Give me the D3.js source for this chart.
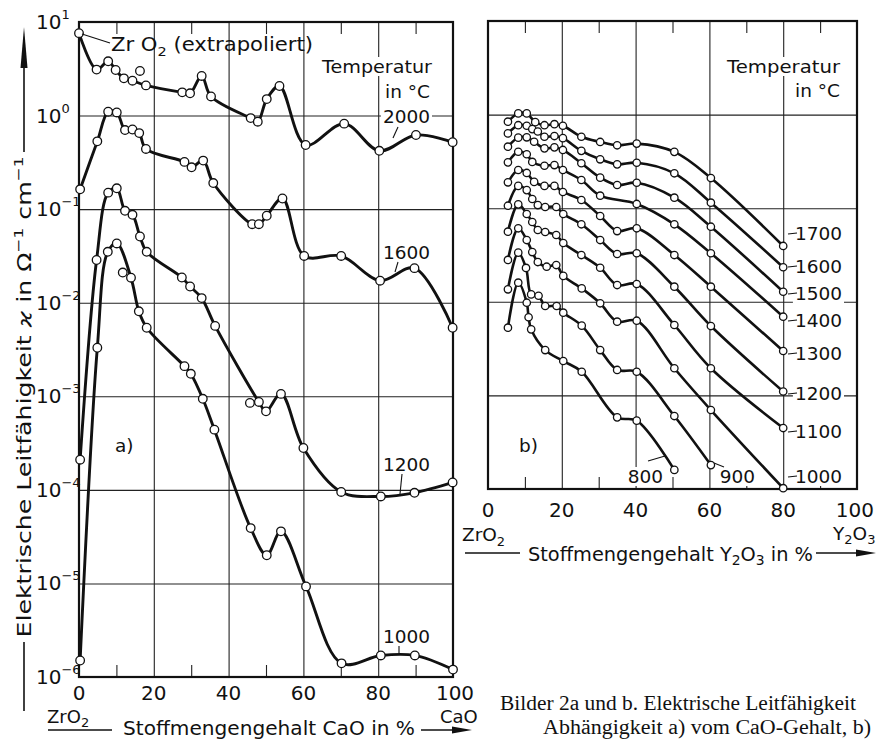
<!DOCTYPE html>
<html>
<head>
<meta charset="utf-8">
<script src="https://cdn.jsdelivr.net/npm/d3@7"></script>
<style>
  body { margin: 0; background: #fff; }
  svg text { font-family: "DejaVu Sans", sans-serif; fill: #111; }
  .cap { font-family: "Liberation Serif", serif; }
</style>
</head>
<body>
<div id="graph"></div>
<script>
/*******************************************************************************
* Data  (x = mol-% additive, value = conductivity in 1/(Ohm cm))
*******************************************************************************/
var xTickLabels = [0, 20, 40, 60, 80, 100];
var decadesA = [1, 0, -1, -2, -3, -4, -5, -6];

// a) ZrO2-CaO
var caO2000 = [[0,7.6],[4.7,3.1],[7.8,3.8],[9.8,3.07],[12,2.5],[14.3,2.36],[17.9,2.1],[27.6,1.77],[29.7,1.73],[32.8,2.65],[35.3,1.6],[45.9,0.94],[47.8,0.86],[50.2,1.5],[53.6,2.07],[60.6,0.485],[70.9,0.82],[80.3,0.42],[90.1,0.62],[99.9,0.52]];
var caO1600 = [[0.3,0.163],[4.9,0.53],[7.8,1.1],[10.1,1.08],[12.3,0.70],[14.3,0.71],[16.1,0.65],[17.9,0.44],[28.2,0.32],[30.1,0.28],[33.2,0.33],[35.9,0.19],[46.3,0.069],[48.1,0.069],[50.2,0.085],[54.4,0.13],[60.2,0.0316],[70.1,0.0316],[80.5,0.0172],[89.7,0.0234],[99.9,0.0054]];
var caO1200 = [[0.3,2.1e-4],[4.7,0.0286],[7.8,0.15],[10.1,0.167],[12.3,0.096],[14.3,0.087],[16.3,0.051],[18.1,0.035],[27.5,0.0186],[29.7,0.0149],[32.8,0.0112],[36.4,0.00565],[48.1,8.7e-4],[50,6.9e-4],[54,1.06e-3],[60,2.8e-4],[70.1,9.5e-5],[80.7,8.5e-5],[89.7,9.3e-5],[99.9,1.2e-4]];
var caO1000 = [[0.3,1.5e-6],[4.9,3.3e-3],[7.7,0.035],[10.1,0.043],[13.9,0.0185],[16,8.1e-3],[18.1,5.4e-3],[28.2,2.1e-3],[29.9,1.74e-3],[33.1,9.4e-4],[36.2,4.4e-4],[45.9,3.9e-5],[50.2,2.0e-5],[54,3.6e-5],[60.7,9.3e-6],[70.2,1.4e-6],[80.7,1.7e-6],[89.8,1.7e-6],[100,1.2e-6]];
var caOStray = [[16.3,3.0],[45.7,8.5e-4],[11.7,0.021]];
var caOTemps = ["2000", "1600", "1200", "1000"];

// b) ZrO2-Y2O3
var y2O3_1700 = [[5.4,0.84],[8.2,1.03],[10.5,1.03],[12.8,0.83],[15.3,0.77],[18,0.79],[20.3,0.76],[25.3,0.58],[30.4,0.51],[35,0.47],[40.3,0.49],[50.5,0.40],[60.4,0.21],[80,0.0395]];
var y2O3_1600 = [[5.4,0.63],[8.2,0.77],[10.5,0.76],[12,0.70],[13.5,0.66],[15.3,0.58],[18,0.59],[20.3,0.56],[25.3,0.41],[30.4,0.333],[35,0.294],[40.3,0.306],[50.5,0.236],[60.4,0.1145],[80,0.0234]];
var y2O3_1500 = [[5.4,0.454],[8.2,0.567],[10.5,0.572],[12.5,0.513],[15.3,0.436],[18,0.447],[20.3,0.419],[25.3,0.302],[30.4,0.212],[35,0.177],[40.3,0.187],[50.5,0.1295],[60.4,0.0634],[80,0.0128]];
var y2O3_1400 = [[5.4,0.309],[8.2,0.401],[10.5,0.377],[12,0.312],[15.3,0.284],[18,0.289],[20.3,0.256],[25.3,0.200],[30.4,0.136],[40.3,0.111],[50.5,0.0673],[60.4,0.033],[80,0.00693]];
var y2O3_1300 = [[5.4,0.189],[8.2,0.256],[10.5,0.238],[12.5,0.191],[15.3,0.173],[18,0.173],[20.3,0.149],[25.3,0.1224],[30.4,0.0825],[35,0.057],[40.3,0.061],[50.5,0.0316],[60.4,0.0145],[80,0.00298]];
var y2O3_1200 = [[5.4,0.1063],[8.2,0.173],[10.5,0.156],[12,0.1254],[13.5,0.108],[15.5,0.103],[18.5,0.103],[20.4,0.0867],[25.3,0.0673],[30.4,0.0457],[35,0.0324],[40.3,0.033],[50.5,0.0145],[60.4,0.00551],[80,0.0011]];
var y2O3_1100 = [[5.4,0.0561],[8.2,0.110],[10.5,0.0867],[12,0.0712],[13.5,0.0585],[15.5,0.0557],[18.5,0.0517],[20.4,0.0425],[25.3,0.0316],[30.4,0.0231],[35,0.0151],[40.3,0.0155],[50.5,0.00565],[60.4,0.00195],[80,0.000448]];
var y2O3_1000 = [[5.4,0.028],[8.2,0.061],[10.5,0.0457],[12,0.034],[13.5,0.0266],[15.9,0.0237],[18.5,0.0247],[20.4,0.0189],[25.4,0.0139],[30.4,0.00964],[35,0.00613],[40.3,0.00628],[50.5,0.00195],[60.4,0.000698],[80,0.000102]];
var y2O3_900 = [[5.4,0.0136],[8.2,0.0335],[10.3,0.023],[11.7,0.012],[13.7,0.0116],[15.5,0.00902],[18.6,0.00902],[20.4,0.00765],[25.4,0.00556],[30.4,0.00305],[35,0.00187],[40.3,0.00179],[50.5,0.000602],[60.4,0.00018]];
var y2O3_800 = [[5.4,0.00529],[8.2,0.016],[10.5,0.00978],[11,0.00683],[11.7,0.00508],[15.5,0.00305],[20.4,0.00233],[25.4,0.00179],[35,0.000583],[40.3,0.000537],[50.5,0.00016]];
var y2O3Temps = ["1700", "1600", "1500", "1400", "1300", "1200", "1100", "1000", "900", "800"];

/*******************************************************************************
* Svg Container + scales
*******************************************************************************/
var svg = d3.select("#graph").append("svg")
  .attr("width", 876)
  .attr("height", 740);

var xA = d3.scaleLinear().domain([0, 100]).range([79, 453]);
var yA = d3.scaleLog().domain([1e-6, 10]).range([677, 22]);
var xB = d3.scaleLinear().domain([0, 100]).range([488, 857]);
var yB = d3.scaleLog().domain([1e-4, 10]).range([489, 21]);

/*******************************************************************************
* grid, ticks and frame
*******************************************************************************/
function frame(x, y, yGrid) {
  var g = svg.append("g");
  var x0 = x.range()[0], x1 = x.range()[1], y0 = y.range()[0], y1 = y.range()[1];

  g.append("g").attr("transform", "translate(0," + y0 + ")")
    .call(d3.axisBottom(x).tickValues([20, 40, 60, 80]).tickSize(-(y0 - y1)).tickFormat(""));
  g.append("g").attr("transform", "translate(" + x0 + ",0)")
    .call(d3.axisLeft(y).tickValues(yGrid).tickSize(-(x1 - x0)).tickFormat(""));
  g.append("g").attr("transform", "translate(0," + y0 + ")")
    .call(d3.axisBottom(x).tickValues([10, 30, 50, 70, 90]).tickSize(-12).tickFormat(""));
  g.append("g").attr("transform", "translate(0," + y1 + ")")
    .call(d3.axisTop(x).tickValues([10, 30, 50, 70, 90]).tickSize(-12).tickFormat(""));

  g.selectAll(".domain").remove();
  g.selectAll(".tick line").attr("stroke", "#222").attr("stroke-width", 1.1);

  g.append("rect")
    .attr("x", x0).attr("y", y1)
    .attr("width", x1 - x0).attr("height", y0 - y1)
    .attr("fill", "none").attr("stroke", "#111").attr("stroke-width", 2.2);
  return g;
}

frame(xA, yA, [1, 0.1, 0.01, 1e-3, 1e-4, 1e-5]);
frame(xB, yB, [1, 0.1, 0.01, 1e-3]);

/*******************************************************************************
* tick labels
*******************************************************************************/
svg.selectAll(".xlabA").data(xTickLabels).enter().append("text")
  .attr("x", function(d) { return xA(d) + (d === 100 ? 2 : 0); })
  .attr("y", 700)
  .attr("text-anchor", "middle").style("font-size", "20px")
  .text(function(d) { return d; });

svg.selectAll(".xlabB").data(xTickLabels).enter().append("text")
  .attr("x", function(d) { return d === 100 ? 874 : xB(d); })
  .attr("y", 517)
  .attr("text-anchor", function(d) { return d === 100 ? "end" : "middle"; })
  .style("font-size", "20px")
  .text(function(d) { return d; });

var ylab = svg.selectAll(".ylabA").data(decadesA).enter().append("text")
  .attr("x", 36)
  .attr("y", function(d) { return yA(Math.pow(10, d)) + 7; })
  .style("font-size", "20px");
ylab.append("tspan").text("10");
ylab.append("tspan").attr("dy", -10).style("font-size", "13px")
  .text(function(d) { return d < 0 ? "\u2212" + (-d) : d; });

/*******************************************************************************
* curves
*******************************************************************************/
function drawCurves(series, x, y, lw, r) {
  var line = d3.line()
    .x(function(d) { return x(d[0]); })
    .y(function(d) { return y(d[1]); })
    .curve(d3.curveCatmullRom.alpha(0.5));
  var g = svg.append("g");
  g.selectAll("path").data(series).enter().append("path")
    .attr("d", line)
    .attr("fill", "none").attr("stroke", "#111")
    .attr("stroke-width", lw).attr("stroke-linejoin", "round");
  series.forEach(function(s) {
    g.selectAll(null).data(s).enter().append("circle")
      .attr("cx", function(d) { return x(d[0]); })
      .attr("cy", function(d) { return y(d[1]); })
      .attr("r", r)
      .attr("fill", "#fff").attr("stroke", "#111").attr("stroke-width", 1.3);
  });
}

drawCurves([caO2000, caO1600, caO1200, caO1000], xA, yA, 2.9, 4.3);
svg.append("g").selectAll("circle").data(caOStray).enter().append("circle")
  .attr("cx", function(d) { return xA(d[0]); })
  .attr("cy", function(d) { return yA(d[1]); })
  .attr("r", 4.3).attr("fill", "#fff").attr("stroke", "#111").attr("stroke-width", 1.3);

drawCurves([y2O3_1700, y2O3_1600, y2O3_1500, y2O3_1400, y2O3_1300,
            y2O3_1200, y2O3_1100, y2O3_1000, y2O3_900, y2O3_800], xB, yB, 2.6, 3.7);

/*******************************************************************************
* labels (white box knocks out grid lines)
*******************************************************************************/
function label(x, y, txt, size, anchor, len) {
  var t = svg.append("text")
    .attr("x", x).attr("y", y)
    .attr("text-anchor", anchor || "start")
    .style("font-size", size + "px")
    .text(txt);
  if (len) t.attr("textLength", len).attr("lengthAdjust", "spacingAndGlyphs");
  var b = t.node().getBBox();
  svg.insert("rect", function() { return t.node(); })
    .attr("x", b.x - 2).attr("y", b.y + 1)
    .attr("width", b.width + 4).attr("height", b.height - 2)
    .attr("fill", "#fff");
  return t;
}

function leader(x1, y1, x2, y2) {
  svg.append("line")
    .attr("x1", x1).attr("y1", y1).attr("x2", x2).attr("y2", y2)
    .attr("stroke", "#111").attr("stroke-width", 1.1);
}

// panel a
label(432, 73, "Temperatur", 18.5, "end", 110);
label(430, 98, "in °C", 18.5, "end");
var caOLabelY = [123, 259, 471, 643];
caOTemps.forEach(function(t, i) { label(430, caOLabelY[i], t, 18.5, "end"); });
leader(398, 127, 393, 138);
leader(398, 262, 395, 272);
leader(402, 474, 400, 494);
leader(399, 646, 399, 654);

var zr = svg.append("text").attr("x", 111).attr("y", 51).style("font-size", "19px");
zr.append("tspan").text("Zr O");
zr.append("tspan").attr("dy", 5).style("font-size", "13px").text("2");
zr.append("tspan").attr("dy", -5).text(" (extrapoliert)");
zr.attr("textLength", 202).attr("lengthAdjust", "spacingAndGlyphs");
leader(82, 34, 110, 43);
label(115, 452, "a)", 18.5, "start");

// panel b
label(840, 73, "Temperatur", 18.5, "end", 113);
label(840, 97, "in °C", 18.5, "end");
var y2O3LabelY = [240, 273, 300, 327, 360, 400, 438, 483];
y2O3Temps.slice(0, 8).forEach(function(t, i) {
  label(842, y2O3LabelY[i], t, 18.5, "end");
  leader(788, y2O3LabelY[i] - 6, 797, y2O3LabelY[i] - 7);
});
label(755, 483, "900", 18.5, "end");
leader(714, 463, 724, 467);
label(663, 483, "800", 18.5, "end");
leader(648, 461, 665, 456);
label(519, 452, "b)", 18.5, "start");

/*******************************************************************************
* axis titles
*******************************************************************************/
function chem(x, y, parts, size, len) {
  var t = svg.append("text").attr("x", x).attr("y", y).style("font-size", size + "px");
  parts.forEach(function(p) {
    var s = t.append("tspan").text(p[0]);
    if (p[1]) s.attr("dy", p[1]);
    if (p[2]) s.style("font-size", p[2] + "px");
  });
  if (len) t.attr("textLength", len).attr("lengthAdjust", "spacingAndGlyphs");
  return t;
}

function arrowRight(x1, x2, y) {
  svg.append("line").attr("x1", x1).attr("x2", x2 - 14).attr("y1", y).attr("y2", y)
    .attr("stroke", "#111").attr("stroke-width", 1.6);
  svg.append("path")
    .attr("d", "M" + x2 + "," + y + "L" + (x2 - 20) + "," + (y - 3.5) + "L" + (x2 - 20) + "," + (y + 3.5) + "Z")
    .attr("fill", "#111");
}

// a) x title
chem(47, 723, [["ZrO"], ["2", 4, 13]], 18);
chem(440, 723, [["CaO"]], 18);
svg.append("line").attr("x1", 48).attr("x2", 112).attr("y1", 730).attr("y2", 730)
  .attr("stroke", "#111").attr("stroke-width", 1.6);
chem(123, 735, [["Stoffmengengehalt CaO in %"]], 19.5, 292);
arrowRight(421, 472, 730);

// b) x title
chem(462, 541, [["ZrO"], ["2", 5, 13]], 18.5);
chem(833, 540, [["Y"], ["2", 4, 13], ["O", -4], ["3", 4, 13]], 18.5);
svg.append("line").attr("x1", 465).attr("x2", 520).attr("y1", 553).attr("y2", 553)
  .attr("stroke", "#111").attr("stroke-width", 1.6);
chem(528, 561, [["Stoffmengengehalt Y"], ["2", 4, 14], ["O", -4], ["3", 4, 14], [" in %", -4]], 19.5, 285);
arrowRight(816, 876, 553);

// a) y title
var yt = svg.append("text")
  .attr("transform", "translate(31,397) rotate(-90)")
  .attr("text-anchor", "middle")
  .style("font-size", "19.5px");
yt.append("tspan").text("Elektrische Leitfähigkeit ");
yt.append("tspan").style("font-style", "italic").text("ϰ");
yt.append("tspan").text(" in Ω");
yt.append("tspan").attr("dy", -8).style("font-size", "13px").text("\u22121");
yt.append("tspan").attr("dy", 8).text(" cm");
yt.append("tspan").attr("dy", -8).style("font-size", "13px").text("\u22121");
yt.attr("textLength", 481).attr("lengthAdjust", "spacingAndGlyphs");

svg.append("line").attr("x1", 24).attr("x2", 24).attr("y1", 152).attr("y2", 62)
  .attr("stroke", "#111").attr("stroke-width", 1.6);
svg.append("path").attr("d", "M24,27L20.5,68L27.5,68Z").attr("fill", "#111");
svg.append("line").attr("x1", 24).attr("x2", 24).attr("y1", 642).attr("y2", 711)
  .attr("stroke", "#111").attr("stroke-width", 1.6);

/*******************************************************************************
* caption
*******************************************************************************/
svg.append("text").attr("class", "cap").attr("x", 500).attr("y", 710)
  .style("font-size", "20.5px")
  .attr("textLength", 356).attr("lengthAdjust", "spacingAndGlyphs")
  .text("Bilder 2a und b. Elektrische Leitfähigkeit");
svg.append("text").attr("class", "cap").attr("x", 543).attr("y", 734)
  .style("font-size", "20.5px")
  .attr("textLength", 328).attr("lengthAdjust", "spacingAndGlyphs")
  .text("Abhängigkeit a) vom CaO-Gehalt, b)");
</script>
</body>
</html>
